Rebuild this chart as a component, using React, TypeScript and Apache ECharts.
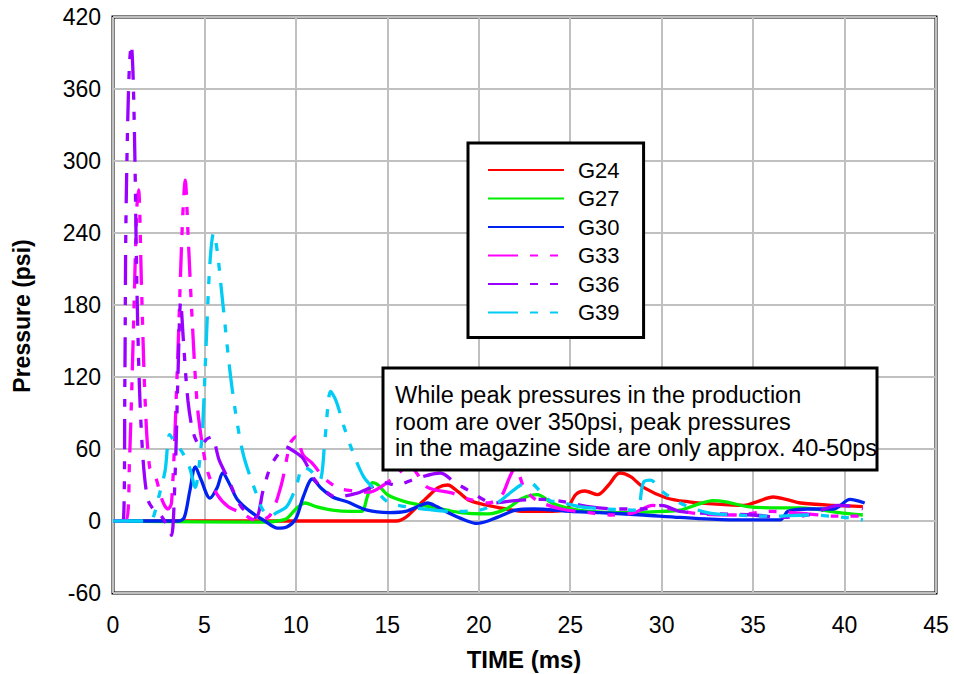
import React, { useEffect, useRef } from "react";
import * as echarts from "echarts";

const seriesNames = ["G24", "G27", "G30", "G33", "G36", "G39"];
const seriesColors = ["#ff0000", "#00ee00", "#0022f0", "#ff00ff", "#9900ff", "#00ccf5"];

const g24: number[][] = [[0,0],[15.5,0],[16.0,3],[16.5,10],[17.2,20],[17.8,28],[18.3,30],[18.9,24],[19.5,17],[20.5,13],[21.5,10],[22.5,8],[24.0,8],[24.8,10],[25.3,22],[25.8,25],[26.5,22],[27.1,30],[27.7,40],[28.3,37],[29.0,28],[30.3,19],[31.5,16],[33,14],[34.5,13],[35.2,16],[36.1,20],[36.8,18],[37.6,15],[39.4,13],[41,12]];
const g27: number[][] = [[0,0],[8.2,-1],[9.0,0],[9.5,2],[10.0,10],[10.5,15],[11.1,12],[12.0,9],[13.0,8],[13.6,8],[13.9,20],[14.2,32],[14.5,30],[15.0,22],[16.0,16],[17.3,12],[19,7],[20.5,6],[21.5,10],[22.4,19],[23.2,22],[24,15],[24.8,11],[26,8],[28,7],[30,8],[31,9],[32,14],[32.8,17],[33.5,16],[34.7,12],[36,11],[37.6,11],[39.7,7],[41,5]];
const g30: number[][] = [[0,0],[3.6,0],[3.9,3],[4.2,25],[4.5,45],[4.8,35],[5.3,19],[5.7,28],[6.0,40],[6.4,30],[6.8,18],[7.5,8],[8.3,0],[9,-6],[9.5,-5],[10.0,2],[10.4,20],[10.9,35],[11.4,27],[12.0,20],[12.8,16],[13.9,9],[15.1,7],[16.0,8],[16.8,13],[17.2,15],[17.7,12],[18.3,7],[19.2,1],[19.9,-2],[20.5,0],[21,3],[22,9],[23,10],[25,8],[26.6,7],[29,5],[31,3],[33.9,1],[36.5,1],[36.9,8],[38,10],[39.4,10],[40.3,18],[41.1,15]];
const g33: number[][] = [[0,0],[0.7,0],[0.9,50],[1.1,150],[1.3,260],[1.4,276],[1.55,200],[1.75,103],[2.0,45],[2.3,38],[2.7,17],[3.0,10],[3.2,15],[3.5,120],[3.8,250],[3.95,284],[4.1,240],[4.3,176],[4.6,98],[4.9,62],[5.2,40],[5.7,22],[6.3,12],[7.0,7],[7.9,0],[8.6,5],[9.2,30],[9.7,65],[10.0,70],[10.4,55],[10.9,48],[11.6,35],[12.4,27],[13.2,25],[14,24],[14.8,30],[15.5,38],[16.2,47],[16.6,40],[17.2,28],[18.6,23],[19.5,18],[20.5,15],[21.2,20],[21.7,37],[22.0,45],[22.5,27],[23.2,17],[24.5,10],[26,7],[27.2,5],[28.5,7],[29.5,13],[30.5,10],[32,6],[34,5],[36,8],[38,6],[39.5,4],[41,4]];
const g36: number[][] = [[0,0],[0.55,0],[0.65,120],[0.7,240],[0.8,330],[0.9,380],[1.0,397],[1.1,370],[1.2,300],[1.3,200],[1.45,110],[1.65,50],[1.9,18],[2.2,10],[2.6,5],[3.0,-5],[3.2,-12],[3.4,40],[3.55,120],[3.7,183],[3.85,150],[4.1,100],[4.4,73],[4.8,62],[5.1,68],[5.4,70],[5.8,51],[6.3,35],[7,12],[7.8,3],[8.2,25],[8.6,45],[9.0,55],[9.4,62],[9.9,58],[10.4,52],[11.0,35],[11.6,25],[12.2,20],[13.3,23],[14.1,28],[14.8,32],[15.5,30],[16.5,35],[17.9,40],[18.7,32],[19.5,25],[20.8,15],[22,17],[23.5,18],[24.7,16],[26,12],[27.5,10],[29,10],[30,13],[31,8],[33,6],[35,5],[36.6,3],[38,5],[39.7,13],[40.5,12],[41,10]];
const g39: number[][] = [[0,0],[2.0,0],[2.2,3],[2.5,20],[2.85,42],[3.1,72],[3.4,65],[3.8,57],[4.2,44],[4.5,28],[4.7,45],[4.9,78],[5.1,150],[5.3,215],[5.5,240],[5.7,225],[6.0,182],[6.5,112],[7.1,57],[7.9,20],[8.2,9],[8.6,4],[8.95,7],[9.5,12],[10.0,28],[10.4,45],[10.8,42],[11.3,34],[11.6,70],[11.9,108],[12.2,100],[12.6,80],[13,62],[13.7,37],[14.4,25],[15.1,15],[16,12],[17,10],[18.5,8],[20,9],[21,15],[21.6,22],[22.3,30],[22.8,32],[23.4,24],[23.9,17],[24.4,16],[25.5,12],[27,10],[28.6,9],[29.0,32],[29.4,34],[30.0,25],[31,15],[32.5,7],[34,5],[36,4],[38,5],[40,3],[41,1]];

const seriesData = [g24, g27, g30, g33, g36, g39];
const dashed = [false, false, false, true, true, true];

const noteLines = [
  "While peak pressures in the production",
  "room are over 350psi, peak pressures",
  "in the magazine side are only approx. 40-50ps",
];

const xTitle = "TIME (ms)";
const yTitle = "Pressure (psi)";

export default function App() {
  const ref = useRef<HTMLDivElement>(null);
  useEffect(() => {
    if (!ref.current) return;
    const chart = echarts.init(ref.current, undefined, { renderer: "svg" });
    const dashPattern = [30, 12, 8, 12, 8, 12];
    chart.setOption({
      animation: false,
      backgroundColor: "#fff",
      grid: {
        left: 113,
        right: 18,
        top: 17,
        bottom: 81,
        show: true,
        borderColor: "#000",
        borderWidth: 3,
      },
      xAxis: {
        type: "value",
        min: 0,
        max: 45,
        interval: 5,
        axisLine: { show: false },
        axisTick: { show: false },
        splitLine: { show: true, lineStyle: { color: "#c0c0c0", width: 2 } },
        axisLabel: {
          color: "#000",
          fontSize: 23,
          fontFamily: "'Liberation Sans Narrow', 'Arial Narrow', 'Liberation Sans', sans-serif",
          margin: 20,
        },
      },
      yAxis: {
        type: "value",
        min: -60,
        max: 420,
        interval: 60,
        axisLine: { show: false },
        axisTick: { show: false },
        splitLine: { show: true, lineStyle: { color: "#c0c0c0", width: 2 } },
        axisLabel: {
          color: "#000",
          fontSize: 23,
          fontFamily: "'Liberation Sans Narrow', 'Arial Narrow', 'Liberation Sans', sans-serif",
          margin: 12,
        },
      },
      legend: {
        orient: "vertical",
        left: 468,
        top: 143,
        width: 165,
        padding: [16, 24, 14, 19],
        itemWidth: 76,
        itemHeight: 20,
        itemGap: 6.5,
        borderColor: "#000",
        borderWidth: 3,
        backgroundColor: "#fff",
        z: 50,
        itemStyle: { opacity: 0 },
        textStyle: {
          color: "#000",
          fontSize: 22,
          fontFamily: "'Liberation Sans', Arial, sans-serif",
          padding: [0, 0, 0, 9],
        },
        data: seriesNames,
      },
      graphic: [
        {
          type: "group",
          z: 100,
          children: [
            {
              type: "rect",
              shape: { x: 383, y: 368, width: 494, height: 102 },
              style: { fill: "#fff", stroke: "#000", lineWidth: 3 },
              z: 100,
            },
            ...noteLines.map((t, i) => ({
              type: "text",
              x: 395,
              y: 395 + i * 26.5,
              z: 101,
              style: {
                text: t,
                fill: "#000",
                font: "23.5px 'Liberation Sans', Arial, sans-serif",
                textVerticalAlign: "middle",
              },
            })),
          ],
        },
        {
          type: "text",
          x: 524,
          y: 659,
          z: 100,
          style: {
            text: xTitle,
            fill: "#000",
            font: "bold 24px 'Liberation Sans', Arial, sans-serif",
            textAlign: "center",
            textVerticalAlign: "middle",
          },
        },
        {
          type: "text",
          x: 22,
          y: 316,
          rotation: Math.PI / 2,
          z: 100,
          style: {
            text: yTitle,
            fill: "#000",
            font: "bold 23px 'Liberation Sans', Arial, sans-serif",
            textAlign: "center",
            textVerticalAlign: "middle",
          },
        },
      ],
      series: seriesNames.map((name, i) => ({
        name,
        type: "line",
        data: seriesData[i],
        smooth: 0.3,
        showSymbol: false,
        symbol: "none",
        color: seriesColors[i],
        lineStyle: {
          color: seriesColors[i],
          width: 3.3,
          type: dashed[i] ? dashPattern : "solid",
        },
        z: 2 + i * 0.01,
      })),
    });
    return () => chart.dispose();
  }, []);
  return (
    <div
      ref={ref}
      style={{ position: "fixed", left: 0, top: 0, width: 954, height: 674 }}
    />
  );
}
